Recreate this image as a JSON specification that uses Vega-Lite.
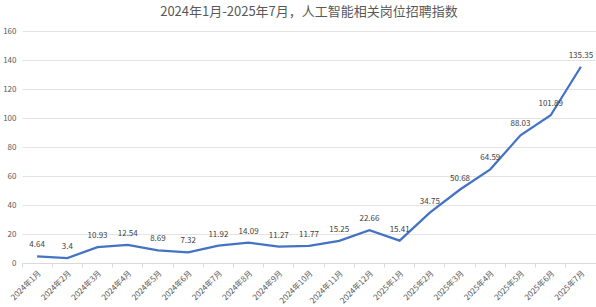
{
  "$schema": "https://vega.github.io/schema/vega-lite/v6.json",
  "width": 596,
  "height": 307,
  "autosize": {"type": "fit", "contains": "padding"},
  "padding": {"left": 2, "right": 0, "top": 6, "bottom": 2},
  "background": "white",
  "title": {
    "text": "2024年1月-2025年7月，人工智能相关岗位招聘指数",
    "font": "Noto Sans CJK SC",
    "fontSize": 13,
    "fontWeight": "normal",
    "color": "#595959",
    "offset": 8
  },
  "config": {
    "view": {"stroke": null},
    "font": "Noto Sans CJK SC"
  },
  "data": {
    "values": [
      {"month": "2024年1月", "value": 4.64},
      {"month": "2024年2月", "value": 3.4},
      {"month": "2024年3月", "value": 10.93},
      {"month": "2024年4月", "value": 12.54},
      {"month": "2024年5月", "value": 8.69},
      {"month": "2024年6月", "value": 7.32},
      {"month": "2024年7月", "value": 11.92},
      {"month": "2024年8月", "value": 14.09},
      {"month": "2024年9月", "value": 11.27},
      {"month": "2024年10月", "value": 11.77},
      {"month": "2024年11月", "value": 15.25},
      {"month": "2024年12月", "value": 22.66},
      {"month": "2025年1月", "value": 15.41},
      {"month": "2025年2月", "value": 34.75},
      {"month": "2025年3月", "value": 50.68},
      {"month": "2025年4月", "value": 64.59},
      {"month": "2025年5月", "value": 88.03},
      {"month": "2025年6月", "value": 101.89},
      {"month": "2025年7月", "value": 135.35}
    ]
  },
  "encoding": {
    "x": {
      "field": "month",
      "type": "ordinal",
      "sort": null,
      "scale": {"type": "band", "paddingInner": 0, "paddingOuter": 0},
      "axis": {
        "title": null,
        "labelAngle": -45,
        "labelFontSize": 8,
        "labelColor": "#595959",
        "domainColor": "#d9d9d9",
        "tickColor": "#d9d9d9",
        "tickSize": 4,
        "bandPosition": 0,
        "labelPadding": 2
      }
    },
    "y": {
      "field": "value",
      "type": "quantitative",
      "scale": {"domain": [0, 160]},
      "axis": {
        "title": null,
        "values": [0, 20, 40, 60, 80, 100, 120, 140, 160],
        "labelFontSize": 8,
        "labelColor": "#595959",
        "domain": false,
        "ticks": false,
        "gridColor": "#e3e3e3",
        "labelPadding": 6
      }
    }
  },
  "layer": [
    {
      "mark": {"type": "line", "color": "#4472C4", "strokeWidth": 2.25}
    },
    {
      "mark": {"type": "text", "dy": -11, "fontSize": 8, "color": "#404040"},
      "encoding": {"text": {"field": "value", "type": "quantitative"}}
    }
  ]
}
